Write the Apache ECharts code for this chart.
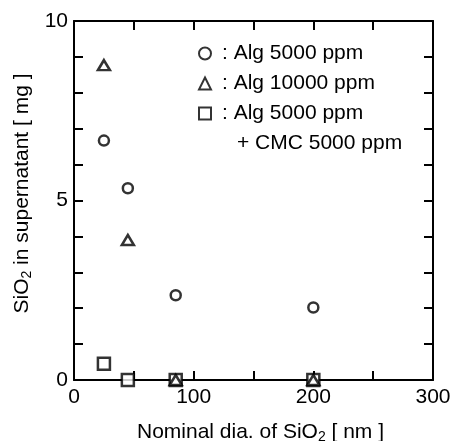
<!DOCTYPE html>
<html>
<head>
<meta charset="utf-8">
<script src="https://cdn.jsdelivr.net/npm/echarts@6/dist/echarts.min.js"></script>
<style>html,body{margin:0;padding:0;background:#fff}#c{width:451px;height:441px}</style>
</head>
<body>
<div id="c"></div>
<script>
const diameters = [25, 45, 85, 200];
const alg5000 = [6.67, 5.34, 2.36, 2.02];
const alg10000 = [8.77, 3.90, 0, 0];
const alg5000cmc = [0.45, 0, 0, 0];
const xTickLabels = [0, 100, 200, 300];
const yTickLabels = [0, 5, 10];
const seriesNames = [': Alg 5000 ppm', ': Alg 10000 ppm', ': Alg 5000 ppm'];
const extraLegendLine = '+ CMC 5000 ppm';

const FONT = 'Liberation Sans, Arial, sans-serif';
const pairs = ys => diameters.map((d, i) => [d, ys[i]]);

const axisCommon = {
  type: 'value',
  axisLine: { show: true, onZero: false, lineStyle: { color: '#000', width: 2 } },
  axisTick: { show: true, inside: true, length: 9, lineStyle: { color: '#000', width: 2 } },
  splitLine: { show: false }
};
const nameRich = {
  sub: { fontSize: 14, fontFamily: FONT, color: '#000', verticalAlign: 'bottom', lineHeight: 24 }
};
const chart = echarts.init(document.getElementById('c'), null, { renderer: 'canvas' });
const markerStyle = { color: '#fff', borderColor: '#000', borderWidth: 2.5 };
chart.setOption({
  animation: false,
  backgroundColor: '#fff',
  grid: { left: 74, right: 18, top: 21, bottom: 61, containLabel: false, outerBoundsMode: 'none' },
  xAxis: [
    Object.assign({}, axisCommon, {
      position: 'bottom', min: 0, max: 300, interval: 50,
      axisLabel: { color: '#000', fontSize: 21, fontFamily: FONT, margin: 7,
        formatter: v => xTickLabels.includes(v) ? String(v) : '' },
      name: 'Nominal dia. of SiO{sub|2} [ nm ]',
      nameLocation: 'middle', nameGap: 40,
      nameTextStyle: { color: '#000', fontSize: 21, fontFamily: FONT, lineHeight: 24, rich: nameRich, padding: [0, 0, 0, 14] }
    }),
    Object.assign({}, axisCommon, {
      position: 'top', min: 0, max: 300, interval: 50, axisLabel: { show: false }
    })
  ],
  yAxis: [
    Object.assign({}, axisCommon, {
      position: 'left', min: 0, max: 10, interval: 1,
      axisLabel: { color: '#000', fontSize: 21, fontFamily: FONT, margin: 6,
        formatter: v => yTickLabels.includes(v) ? String(v) : '' },
      name: 'SiO{sub|2} in supernatant [ mg ]',
      nameLocation: 'middle', nameGap: 34,
      nameTextStyle: { color: '#000', fontSize: 21, fontFamily: FONT, lineHeight: 24, rich: nameRich, padding: [0, 0, 0, 14] }
    }),
    Object.assign({}, axisCommon, {
      position: 'right', min: 0, max: 10, interval: 1, axisLabel: { show: false }
    })
  ],
  legend: {
    orient: 'vertical', left: 193, top: 38,
    itemWidth: 12, itemHeight: 12, itemGap: 9,
    textStyle: { color: '#000', fontSize: 21, fontFamily: FONT, padding: [0, 0, 0, 6] },
    data: [
      { name: seriesNames[0], icon: 'circle' },
      { name: seriesNames[1] + ' ', icon: 'triangle' },
      { name: seriesNames[2] + '  ', icon: 'rect' }
    ],
    formatter: n => n.trim()
  },
  graphic: [{
    type: 'text', left: 237, top: 133,
    style: { text: extraLegendLine, fontSize: 21, fontFamily: FONT, fill: '#000' }
  }],
  series: [
    { type: 'scatter', name: seriesNames[0], data: pairs(alg5000), symbol: 'circle', symbolSize: 10, itemStyle: markerStyle, clip: false, z: 3 },
    { type: 'scatter', name: seriesNames[2] + '  ', data: pairs(alg5000cmc), symbol: 'rect', symbolSize: 12, itemStyle: markerStyle, clip: false, z: 4 },
    { type: 'scatter', name: seriesNames[1] + ' ', data: pairs(alg10000), symbol: 'triangle', symbolSize: [12, 10], itemStyle: markerStyle, clip: false, z: 5 }
  ]
});
</script>
</body>
</html>
